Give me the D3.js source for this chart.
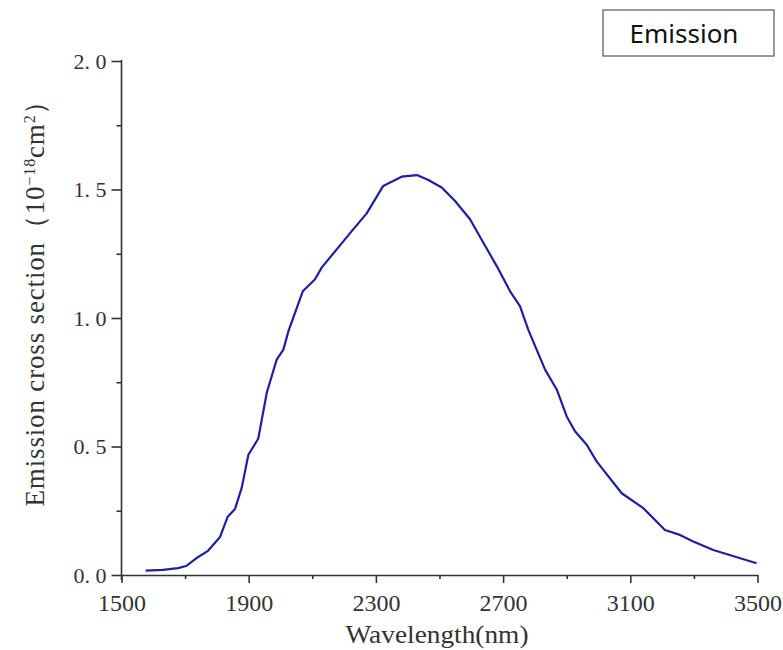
<!DOCTYPE html>
<html>
<head>
<meta charset="utf-8">
<script src="https://cdn.jsdelivr.net/npm/d3@7"></script>
<style>
  body { margin:0; background:#fff; }
  #chart { width:783px; height:650px; }
</style>
</head>
<body>
<div id="chart"></div>
<script>
// values
var wavelength = [1576,1630,1678,1703,1736,1772,1810,1834,1857,1878,1899,1930,1957,1988,2009,2025,2070,2108,2130,2182,2224,2271,2323,2381,2429,2465,2507,2549,2596,2638,2680,2722,2753,2779,2832,2869,2900,2926,2963,2994,3073,3141,3209,3256,3298,3361,3497];
var crossSection = [0.017,0.020,0.027,0.035,0.066,0.094,0.148,0.227,0.257,0.339,0.468,0.530,0.710,0.838,0.877,0.949,1.104,1.150,1.197,1.275,1.338,1.407,1.514,1.550,1.556,1.537,1.508,1.455,1.384,1.293,1.202,1.104,1.046,0.955,0.799,0.721,0.617,0.559,0.507,0.442,0.318,0.260,0.175,0.156,0.130,0.097,0.046];
var xTicks = [1500,1900,2300,2700,3100,3500];
var xMinor = [1700,2100,2500,2900,3300];
var yTicks = [0,0.5,1.0,1.5,2.0];
var yMinor = [0.25,0.75,1.25,1.75];
var legendLabel = "Emission";

var svg = d3.select("#chart")
            .append("svg")
            .attr("width", 783)
            .attr("height", 650);

var x = d3.scaleLinear().domain([1500, 3500]).range([121.5, 757.5]);
var y = d3.scaleLinear().domain([0, 2]).range([575, 61]);
var serif = "'Liberation Serif','DejaVu Serif',serif";
var ink = "#333";

// minor ticks first so the major axis draws over them
svg.append("g")
   .attr("transform", "translate(0,575)")
   .call(d3.axisBottom(x).tickValues(xMinor).tickFormat("").tickSize(4).tickSizeOuter(0))
   .call(function(g){ g.select(".domain").remove(); });
svg.append("g")
   .attr("transform", "translate(121.5,0)")
   .call(d3.axisLeft(y).tickValues(yMinor).tickFormat("").tickSize(5).tickSizeOuter(0))
   .call(function(g){ g.select(".domain").remove(); });

var xAxis = svg.append("g")
   .attr("transform", "translate(0,575)")
   .call(d3.axisBottom(x).tickValues(xTicks).tickSize(8).tickSizeOuter(0).tickPadding(11).tickFormat(d3.format("d")));
xAxis.selectAll("text").style("font-family", serif).style("font-size", "24px").attr("fill", ink);

var yAxis = svg.append("g")
   .attr("transform", "translate(121.5,0)")
   .call(d3.axisLeft(y).tickValues(yTicks).tickSize(10).tickSizeOuter(0).tickPadding(5)
          .tickFormat(function(d){ return d.toFixed(1).replace(".", ". "); }));
yAxis.selectAll("text").style("font-family", serif).style("font-size", "22px").attr("fill", ink);
yAxis.select(".domain").attr("d", "M0,60V580");

svg.selectAll(".domain, .tick line").attr("stroke", ink).attr("stroke-width", 1.6);

// curve
var line = d3.line()
             .x(function(d, i){ return x(wavelength[i]); })
             .y(function(d){ return y(d); });
svg.append("path")
   .datum(crossSection)
   .attr("d", line)
   .style("fill", "none")
   .style("stroke", "#1f1fa3")
   .style("stroke-width", 2.2)
   .style("stroke-linejoin", "round");

// axis titles
svg.append("text")
   .attr("x", 437)
   .attr("y", 643)
   .attr("text-anchor", "middle")
   .attr("textLength", 183)
   .attr("lengthAdjust", "spacingAndGlyphs")
   .style("font-family", serif)
   .style("font-size", "26px")
   .attr("fill", ink)
   .text("Wavelength(nm)");

var yt = svg.append("text")
   .attr("transform", "translate(44,297) rotate(-90)")
   .attr("text-anchor", "middle")
   .attr("textLength", 419)
   .attr("lengthAdjust", "spacing")
   .style("font-family", serif)
   .style("font-size", "27px")
   .attr("fill", ink);
yt.append("tspan").text("Emission cross section\uFF0810");
yt.append("tspan").attr("dy", -9).style("font-size", "16px").text("\u221218");
yt.append("tspan").attr("dy", 9).text("cm");
yt.append("tspan").attr("dy", -9).style("font-size", "16px").text("2");
yt.append("tspan").attr("dy", 9).text("\uFF09");

// legend box
svg.append("rect")
   .attr("x", 603)
   .attr("y", 10)
   .attr("width", 171)
   .attr("height", 46)
   .style("fill", "#fff")
   .style("stroke", "#555")
   .style("stroke-width", 1.2);
svg.append("text")
   .attr("x", 684)
   .attr("y", 43)
   .attr("text-anchor", "middle")
   .style("font-family", "'Noto Sans','Open Sans',sans-serif")
   .style("font-size", "26px")
   .attr("fill", "#111")
   .text(legendLabel);
</script>
</body>
</html>
